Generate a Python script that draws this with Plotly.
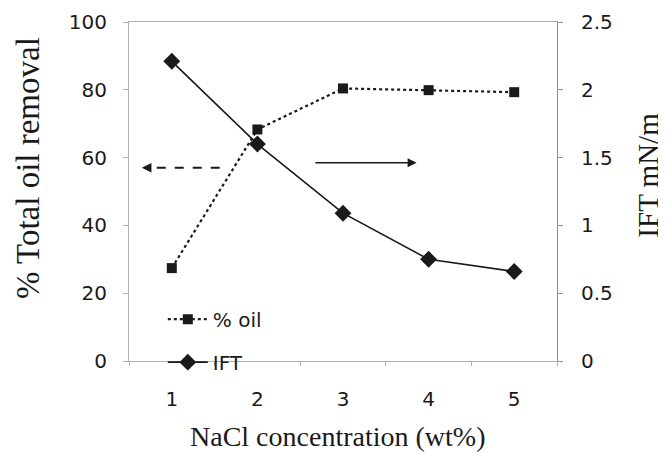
import plotly.graph_objects as go

# ---- data ----
nacl = [1, 2, 3, 4, 5]
oil_removal = [27.4, 68.3, 80.4, 79.9, 79.3]
ift = [2.21, 1.60, 1.09, 0.75, 0.66]

x_ticks = [1, 2, 3, 4, 5]
y1_ticks = [0, 20, 40, 60, 80, 100]
y2_ticks = [0, 0.5, 1, 1.5, 2, 2.5]
y2_labels = ["0", "0.5", "1", "1.5", "2", "2.5"]

x_title = "NaCl concentration (wt%)"
y1_title = "% Total oil removal"
y2_title = "IFT mN/m"

# arrow annotations (data coords)
left_arrow = dict(x0=1.56, x1=0.65, y=57)
right_arrow = dict(x0=2.66, x1=3.86, y=58.5)

INK = "#1a1a1a"
SANS = "DejaVu Sans"
SERIF = "Liberation Serif"

fig = go.Figure()
fig.add_trace(go.Scatter(
    x=nacl, y=oil_removal, name="% oil", mode="lines+markers",
    line=dict(color=INK, width=2.2, dash="dot"),
    marker=dict(symbol="square", size=10, color=INK),
    legendgroup="a",
))
fig.add_trace(go.Scatter(
    x=nacl, y=ift, name="IFT", mode="lines+markers", yaxis="y2",
    line=dict(color=INK, width=1.6),
    marker=dict(symbol="diamond", size=13, color=INK),
    legendgroup="b",
))

# dashed arrow toward left axis
fig.add_shape(type="line", xref="x", yref="y",
              x0=left_arrow["x0"], x1=left_arrow["x1"] + 0.08,
              y0=left_arrow["y"], y1=left_arrow["y"],
              line=dict(color=INK, width=2, dash="dash"))
fig.add_annotation(x=left_arrow["x1"], y=left_arrow["y"], xref="x", yref="y",
                   ax=left_arrow["x1"] + 0.1, ay=left_arrow["y"], axref="x", ayref="y",
                   text="", showarrow=True, arrowhead=2, arrowsize=1.2,
                   arrowwidth=1.6, arrowcolor=INK)
# solid arrow toward right axis
fig.add_annotation(x=right_arrow["x1"], y=right_arrow["y"], xref="x", yref="y",
                   ax=right_arrow["x0"], ay=right_arrow["y"], axref="x", ayref="y",
                   text="", showarrow=True, arrowhead=2, arrowsize=1.2,
                   arrowwidth=1.5, arrowcolor=INK)

# axis titles
fig.add_annotation(text=y1_title, xref="paper", yref="paper", x=-0.236, y=0.569,
                   textangle=-90, showarrow=False, xanchor="center", yanchor="middle",
                   font=dict(family=SERIF, size=33, color=INK))
fig.add_annotation(text=y2_title, xref="paper", yref="paper", x=1.212, y=0.549,
                   textangle=-90, showarrow=False, xanchor="center", yanchor="middle",
                   font=dict(family=SERIF, size=29, color=INK))
fig.add_annotation(text=x_title, xref="paper", yref="paper", x=0.486, y=-0.222,
                   showarrow=False, xanchor="center", yanchor="middle",
                   font=dict(family=SERIF, size=28, color=INK))

fig.update_layout(
    width=658, height=446,
    margin=dict(l=121, r=109, t=14, b=93),
    paper_bgcolor="white", plot_bgcolor="white",
    font=dict(family=SANS, color=INK, size=20),
    showlegend=True,
    legend=dict(x=0.079, y=0.06, xanchor="left", yanchor="middle",
                bgcolor="rgba(0,0,0,0)", font=dict(family=SANS, size=20),
                tracegroupgap=14, itemwidth=40),
    xaxis=dict(
        range=[0.5, 5.5], tickvals=x_ticks, ticks="", showgrid=False,
        zeroline=False, showline=True, linecolor="#b0b0b0", linewidth=1,
        mirror=True, ticklabelstandoff=20, automargin=False,
        tickfont=dict(family=SANS, size=20, color=INK),
        minor=dict(tick0=0.5, dtick=1, ticks="outside", ticklen=4,
                   tickcolor="#b0b0b0", showgrid=False),
    ),
    yaxis=dict(
        range=[0, 100], tickvals=y1_ticks, ticks="outside", ticklen=5,
        tickcolor="#b0b0b0", showgrid=False, zeroline=False,
        showline=True, linecolor="#b0b0b0", linewidth=1,
        ticklabelstandoff=12, automargin=False,
        tickfont=dict(family=SANS, size=20, color=INK),
    ),
    yaxis2=dict(
        range=[0, 2.5], tickvals=y2_ticks, ticktext=y2_labels,
        overlaying="y", side="right", ticks="outside", ticklen=5,
        tickcolor="#909090", showgrid=False, zeroline=False,
        showline=True, linecolor="#909090", linewidth=1,
        ticklabelstandoff=14, automargin=False,
        tickfont=dict(family=SANS, size=20, color=INK),
    ),
)

fig.write_html("out.html")
